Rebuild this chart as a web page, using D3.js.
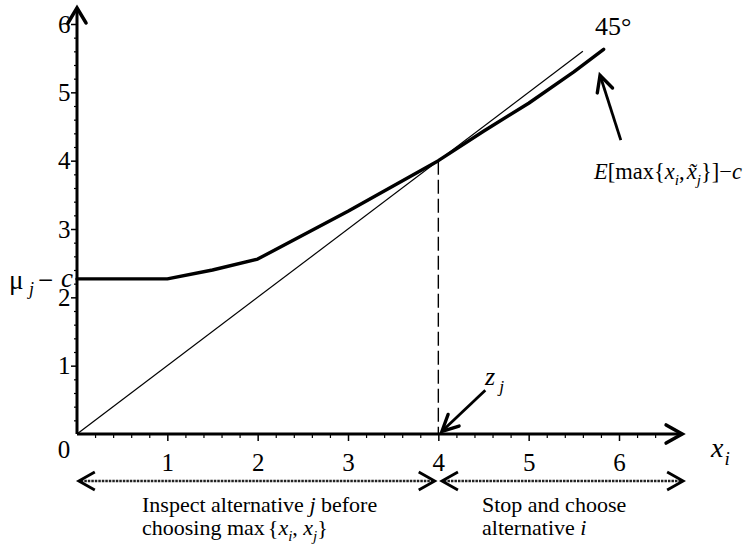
<!DOCTYPE html>
<html><head><meta charset="utf-8">
<script src="https://cdn.jsdelivr.net/npm/d3@7/dist/d3.min.js"></script>
<style>
body{margin:0;background:#fff}
svg{display:block;background:#fff}
text{font-family:"Liberation Serif","Times New Roman",serif;fill:#000}
</style>
</head><body>
<svg id="c" width="748" height="552"></svg>
<script>
// ---- data ----
const curveX = [0, 1, 1.5, 2, 3, 4, 4.5, 5, 5.5, 5.83];
const curveY = [2.27, 2.27, 2.40, 2.56, 3.26, 4.0, 4.43, 4.84, 5.30, 5.63];
const diagX = [0, 5.6];
const diagY = [0, 5.6];
const xTicks = [1, 2, 3, 4, 5, 6];
const yTicks = [1, 2, 3, 4, 5, 6];
const xTickLabels = ["1", "2", "3", "4", "5", "6"];
const yTickLabels = ["1", "2", "3", "4", "5", "6"];
const zStar = 4;
const xAxisMax = 6.71;
const yAxisMax = 6.25;
const leftRegion = [0.02, 3.96];
const rightRegion = [4.04, 6.71];

// ---- scales ----
const svg = d3.select("#c");
const x = d3.scaleLinear().domain([0, 6]).range([77, 619]);
const y = d3.scaleLinear().domain([0, 6]).range([434, 24]);

// minor ticks
const xMinor = d3.range(0.2, 6.41, 0.2).filter(v => Math.abs(v - Math.round(v)) > 0.01);
const yMinor = d3.range(0.2, 6.01, 0.2).filter(v => Math.abs(v - Math.round(v)) > 0.01);

const FONT = "Liberation Serif";

// x axis ticks
const gx = svg.append("g").attr("transform", `translate(0,${y(0)})`);
gx.call(d3.axisBottom(x).tickValues(xMinor).tickSize(4).tickFormat(""));
gx.select(".domain").remove();
gx.selectAll("line").attr("stroke", "#000").attr("stroke-width", 1.2);
const gx2 = svg.append("g").attr("transform", `translate(0,${y(0)})`);
gx2.call(d3.axisBottom(x).tickValues(xTicks).tickSize(7).tickPadding(12).tickFormat((d, i) => xTickLabels[i]));
gx2.select(".domain").remove();
gx2.selectAll("line").attr("stroke", "#000").attr("stroke-width", 1.5);
gx2.selectAll("text").attr("font-size", 25).attr("font-family", FONT).attr("fill", "#000");

// y axis ticks
const gy = svg.append("g").attr("transform", `translate(${x(0)},0)`);
gy.call(d3.axisLeft(y).tickValues(yMinor).tickSize(3).tickFormat(""));
gy.select(".domain").remove();
gy.selectAll("line").attr("stroke", "#000").attr("stroke-width", 1.2);
const gy2 = svg.append("g").attr("transform", `translate(${x(0)},0)`);
gy2.call(d3.axisLeft(y).tickValues(yTicks).tickSize(6).tickPadding(-2).tickFormat((d, i) => yTickLabels[i]));
gy2.select(".domain").remove();
gy2.selectAll("line").attr("stroke", "#000").attr("stroke-width", 1.5);
gy2.selectAll("text").attr("font-size", 25).attr("font-family", FONT).attr("fill", "#000").attr("dx", "-0.1em");

// origin label
svg.append("text").attr("x", x(0) - 13).attr("y", y(0) + 24).attr("text-anchor", "middle")
  .attr("font-size", 25).text("0");

// 45-degree line
const line = d3.line().x(d => x(d[0])).y(d => y(d[1]));
svg.append("path").datum(diagX.map((v, i) => [v, diagY[i]]))
  .attr("d", line).attr("fill", "none").attr("stroke", "#000").attr("stroke-width", 1.2);

// dashed vertical at z
svg.append("line").attr("x1", x(zStar)).attr("x2", x(zStar)).attr("y1", y(zStar)).attr("y2", y(0))
  .attr("stroke", "#000").attr("stroke-width", 1.4).attr("stroke-dasharray", "14,5");

// main curve
svg.append("path").datum(curveX.map((v, i) => [v, curveY[i]]))
  .attr("d", line)
  .attr("fill", "none").attr("stroke", "#000").attr("stroke-width", 3.4)
  .attr("stroke-linejoin", "round").attr("stroke-linecap", "round");

// arrows
function chevron(tx, ty, fx, fy, len, half) {
  const dx = tx - fx, dy = ty - fy, L = Math.hypot(dx, dy);
  const ux = dx / L, uy = dy / L, px = -uy, py = ux;
  const bx = tx - ux * len, by = ty - uy * len;
  return `M${bx + px * half},${by + py * half}L${tx},${ty}L${bx - px * half},${by - py * half}`;
}
function arrowLine(x1, y1, x2, y2, w, len, half) {
  const g = svg.append("g");
  g.append("line").attr("x1", x1).attr("y1", y1).attr("x2", x2).attr("y2", y2)
    .attr("stroke", "#000").attr("stroke-width", w);
  g.append("path").attr("d", chevron(x2, y2, x1, y1, len, half))
    .attr("fill", "none").attr("stroke", "#000").attr("stroke-width", w + 0.6)
    .attr("stroke-linejoin", "miter").attr("stroke-linecap", "round");
  return g;
}
arrowLine(x(0), y(0), x(xAxisMax) - 1, y(0), 3, 16, 9);
arrowLine(x(0), y(0), x(0), y(yAxisMax) + 1, 3, 15, 9);

// bottom region double arrows
const yb = y(0) + 47;
function doubleArrow(a, b) {
  const x1 = x(a), x2 = x(b);
  svg.append("line").attr("x1", x1 + 2).attr("x2", x2 - 2).attr("y1", yb).attr("y2", yb)
    .attr("stroke", "#222").attr("stroke-width", 2.4).attr("stroke-dasharray", "2.5,1");
  svg.append("path").attr("d", chevron(x2, yb, x1, yb, 16, 9)).attr("fill", "none").attr("stroke", "#000").attr("stroke-width", 2.8);
  svg.append("path").attr("d", chevron(x1, yb, x2, yb, 16, 9)).attr("fill", "none").attr("stroke", "#000").attr("stroke-width", 2.8);
}
doubleArrow(leftRegion[0], leftRegion[1]);
doubleArrow(rightRegion[0], rightRegion[1]);

// annotation arrows
arrowLine(x(6.02), y(4.30), x(5.79), y(5.25), 2.8, 16, 8);
arrowLine(x(4.52), y(0.64), x(4.04), y(0.04), 2.8, 16, 8);

// ---- text labels ----
function rich(xp, yp, parts, size) {
  const t = svg.append("text").attr("x", xp).attr("y", yp).attr("font-size", size);
  let shift = 0;
  parts.forEach(p => {
    const ts = t.append("tspan").text(p.t);
    const target = p.sub ? size * 0.28 : 0;
    if (target !== shift) { ts.attr("dy", target - shift); shift = target; }
    if (p.sub) ts.attr("font-size", size * 0.68);
    if (p.i) ts.attr("font-style", "italic");
    if (p.dx) ts.attr("dx", p.dx);
  });
  return t;
}
svg.append("text").attr("x", 595).attr("y", 35).attr("font-size", 26).text("45°");
rich(594, 179, [
  {t: "E", i: 1}, {t: "[max{"}, {t: "x", i: 1}, {t: "i", i: 1, sub: 1}, {t: ","},
  {t: "x\u0303", i: 1, dx: 2}, {t: "j", i: 1, sub: 1}, {t: "}]\u2212"}, {t: "c", i: 1}
], 22.5);
// mu_j - c label
svg.append("text").attr("x", 9).attr("y", 289).attr("font-size", 27).text("\u03bc");
svg.append("text").attr("x", 29).attr("y", 295).attr("font-size", 18).attr("font-style", "italic").text("j");
svg.append("text").attr("x", 38).attr("y", 289).attr("font-size", 27).text("\u2212");
svg.append("text").attr("x", 61).attr("y", 287).attr("font-size", 27).attr("font-style", "italic").text("c");

rich(485, 385, [{t: "z", i: 1}, {t: "j", i: 1, sub: 1, dx: 4}], 26);
rich(711, 457, [{t: "x", i: 1}, {t: "i", i: 1, sub: 1, dx: 1}], 28);

svg.append("text").attr("x", 142).attr("y", 512).attr("font-size", 22)
  .html('Inspect alternative <tspan font-style="italic">j</tspan> before');
rich(142, 535, [{t: "choosing "}, {t: "max"}, {t: "{", dx: 3}, {t: "x", i: 1}, {t: "i", i: 1, sub: 1}, {t: ", "},
  {t: "x", i: 1}, {t: "j", i: 1, sub: 1}, {t: "}"}], 22);
svg.append("text").attr("x", 482).attr("y", 512).attr("font-size", 22).text("Stop and choose");
svg.append("text").attr("x", 482).attr("y", 535).attr("font-size", 22)
  .html('alternative <tspan font-style="italic">i</tspan>');
</script>
</body></html>
